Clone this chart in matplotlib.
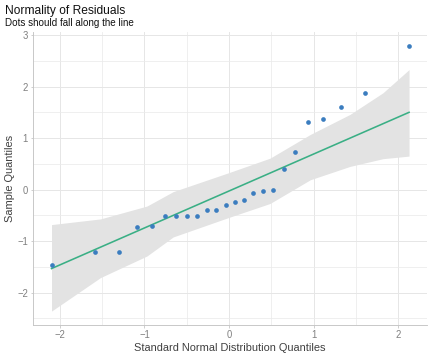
import matplotlib
matplotlib.use("Agg")
import matplotlib.pyplot as plt
from matplotlib.ticker import MultipleLocator

plt.rcParams['font.family'] = ['Liberation Sans', 'DejaVu Sans']

# Data
theo_x = [-2.098, -1.580, -1.297, -1.084, -0.907, -0.757, -0.623, -0.496, -0.378,
          -0.260, -0.150, -0.039, 0.071, 0.177, 0.287, 0.402, 0.520, 0.647,
          0.784, 0.934, 1.108, 1.320, 1.604, 2.128]
sample_y = [-1.456, -1.21, -1.21, -0.732, -0.705, -0.518, -0.518, -0.518, -0.518,
            -0.402, -0.402, -0.291, -0.233, -0.208, -0.064, -0.033, -0.014, 0.402,
            0.738, 1.307, 1.365, 1.612, 1.870, 2.79]

band_x = [-2.098, -1.52, -0.97, -0.66, 0.0, 0.485, 0.96, 1.43, 1.82, 2.128]
band_lo = [-2.36, -1.71, -1.29, -0.92, -0.54, -0.27, 0.19, 0.45, 0.60, 0.65]
band_hi = [-0.68, -0.57, -0.32, -0.04, 0.33, 0.61, 1.07, 1.46, 1.88, 2.33]

line_x = [-2.098, 2.128]
line_y = [-1.534, 1.50]

x_ticks = [-2, -1, 0, 1, 2]
y_ticks = [-2, -1, 0, 1, 2, 3]

fig = plt.figure(figsize=(6, 5), dpi=72)
ax = fig.add_axes([33/432, 1-325/360, (427-33)/432, (325-32)/360])

ax.fill_between(band_x, band_lo, band_hi, color='#e3e3e3', linewidth=0, zorder=1)
ax.plot(line_x, line_y, color='#3aaf85', linewidth=1.6, zorder=3)
ax.scatter(theo_x, sample_y, s=22, color='#3b7dbf', linewidths=0, zorder=4)

ax.set_xlim(-2.317, 2.34)
ax.set_ylim(-2.63, 3.06)
ax.set_xticks(x_ticks)
ax.set_yticks(y_ticks)
ax.xaxis.set_minor_locator(MultipleLocator(0.5))
ax.yaxis.set_minor_locator(MultipleLocator(0.5))
ax.grid(True, which='major', color='#e6e6e6', linewidth=1.0, zorder=0)
ax.grid(True, which='minor', color='#ebebeb', linewidth=0.8, zorder=0)
ax.set_axisbelow(True)

for s in ['top', 'right']:
    ax.spines[s].set_visible(False)
for s in ['left', 'bottom']:
    ax.spines[s].set_color('#c4c4c4')
    ax.spines[s].set_linewidth(0.9)

ax.tick_params(which='both', length=0, labelsize=9.5, labelcolor='#7f7f7f', pad=2.5)
ax.tick_params(which='major', length=2.5, color='#c4c4c4', width=0.8)

ax.set_xlabel('Standard Normal Distribution Quantiles', fontsize=11, color='#404040')
ax.set_ylabel('Sample Quantiles', fontsize=11, color='#404040')
ax.xaxis.set_label_coords(0.5, (325-348)/293)
ax.yaxis.set_label_coords((10-33)/394, 0.5)
ax.xaxis.label.set_va('center')
ax.yaxis.label.set_va('center')

fig.text(5/432, 1-11/360, 'Normality of Residuals', fontsize=12, color='#111111',
         ha='left', va='center')
fig.text(5/432, 1-23.5/360, 'Dots should fall along the line', fontsize=9.9, color='#111111',
         ha='left', va='center')

fig.savefig('out.png', dpi=72)
